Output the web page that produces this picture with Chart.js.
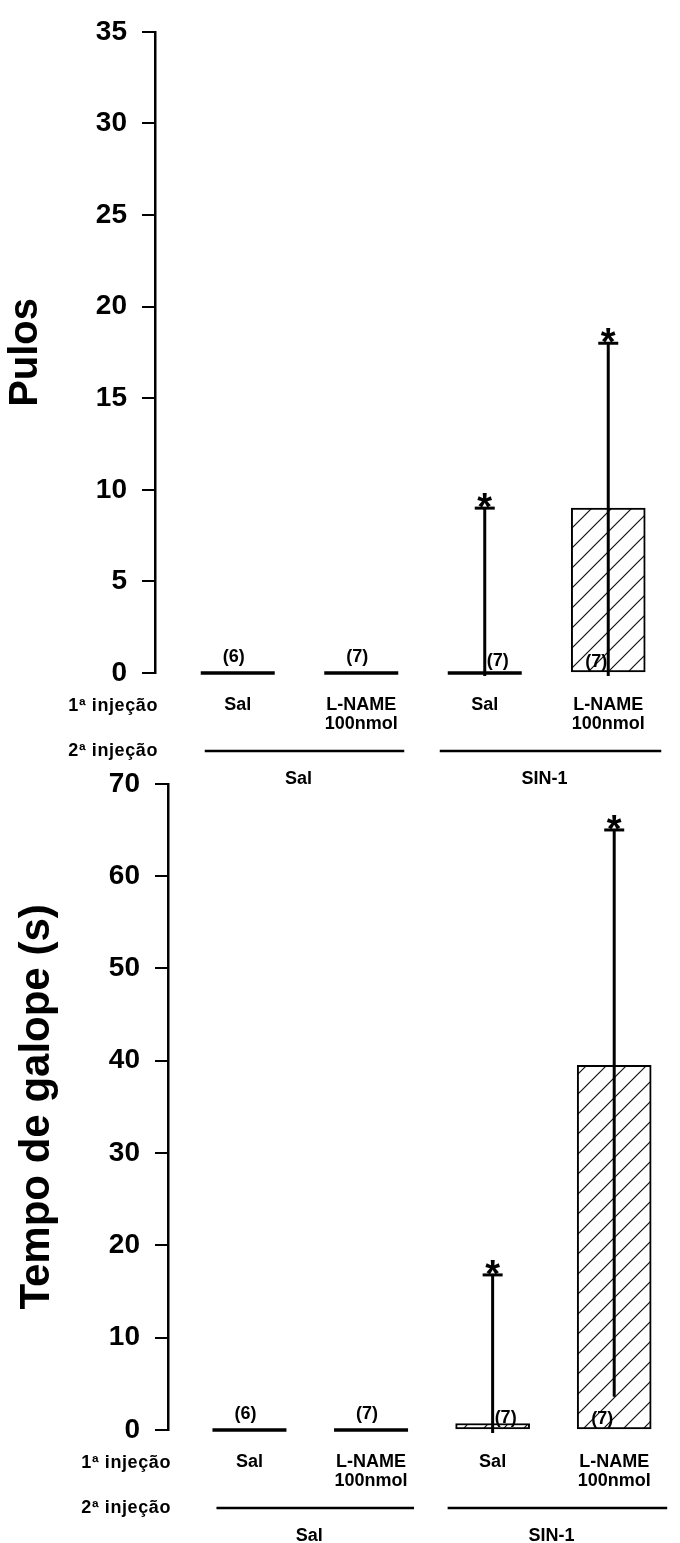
<!DOCTYPE html>
<html><head><meta charset="utf-8">
<script src="https://cdn.jsdelivr.net/npm/chart.js@4.4.1/dist/chart.umd.min.js"></script>
<style>
body{margin:0;background:#fff;width:680px;height:1543px;overflow:hidden;position:relative;}
canvas{position:absolute;left:0;}
#c1{top:0;}
#c2{top:752px;}
</style></head><body>
<canvas id="c1" width="680" height="800"></canvas>
<canvas id="c2" width="680" height="791"></canvas>
<script>
// ---- data ----
const categories = [["Sal"], ["L-NAME", "100nmol"], ["Sal"], ["L-NAME", "100nmol"]];
const groups = ["Sal", "SIN-1"];
const rowLabels = ["1ª injeção", "2ª injeção"];
const nLabels = ["(6)", "(7)", "(7)", "(7)"];
const stars = ["", "", "*", "*"];

const pulosMean = [0, 0, 0, 9];
const pulosErrHigh = [0, 0, 9, 18];
const pulosErrLow = [0, 0, 0, 0];
const pulosTicks = [0, 5, 10, 15, 20, 25, 30, 35];

const galopeMean = [0, 0, 0.7, 39.5];
const galopeErrHigh = [0, 0, 16.8, 65];
const galopeErrLow = [0, 0, 0, 3.6];
const galopeTicks = [0, 10, 20, 30, 40, 50, 60, 70];

const FONT = "'Liberation Sans', Arial, sans-serif";

function hatchPattern() {
  const c = document.createElement('canvas');
  c.width = 20; c.height = 20;
  const g = c.getContext('2d');
  g.fillStyle = '#fff'; g.fillRect(0, 0, 20, 20);
  g.strokeStyle = '#111'; g.lineWidth = 1.2;
  g.beginPath();
  g.moveTo(-2, 22); g.lineTo(22, -2);
  g.moveTo(-6, 6); g.lineTo(6, -6);
  g.moveTo(14, 26); g.lineTo(26, 14);
  g.stroke();
  return g.createPattern(c, 'repeat');
}

function annotPlugin(errHigh, errLow, means) {
  return {
    id: 'annot',
    afterDatasetsDraw(chart) {
      const ctx = chart.ctx;
      const y = chart.scales.y;
      const els = chart.getDatasetMeta(0).data;
      const zeroY = y.getPixelForValue(0);
      ctx.save();
      ctx.strokeStyle = '#000'; ctx.fillStyle = '#000';
      els.forEach((el, i) => {
        const w = el.width;
        if (Math.abs(el.base - el.y) < 2) {
          ctx.lineWidth = 3.5;
          ctx.beginPath(); ctx.moveTo(el.x - w / 2, zeroY); ctx.lineTo(el.x + w / 2, zeroY); ctx.stroke();
        }
        if (errHigh[i] > means[i]) {
          const yt = y.getPixelForValue(errHigh[i]);
          const yb = y.getPixelForValue(errLow[i]);
          ctx.lineWidth = 3;
          ctx.beginPath(); ctx.moveTo(el.x, yb + (errLow[i] === 0 ? 3 : 0)); ctx.lineTo(el.x, yt); ctx.stroke();
          ctx.beginPath(); ctx.moveTo(el.x - 10, yt); ctx.lineTo(el.x + 10, yt); ctx.stroke();
          if (stars[i]) {
            ctx.font = 'bold 38px ' + FONT;
            ctx.textAlign = 'center'; ctx.textBaseline = 'alphabetic';
            ctx.fillText(stars[i], el.x, yt + 12);
          }
        }
        ctx.font = 'bold 18px ' + FONT;
        ctx.textBaseline = 'alphabetic';
        if (errHigh[i] <= means[i]) {
          ctx.textAlign = 'center';
          ctx.fillText(nLabels[i], el.x - 4, zeroY - 11);
        } else if (means[i] < 2) {
          ctx.textAlign = 'left';
          ctx.fillText(nLabels[i], el.x + 2, zeroY - 7);
        } else {
          ctx.textAlign = 'right';
          ctx.fillText(nLabels[i], el.x - 1, zeroY - 6);
        }
      });
      const ca = chart.chartArea;
      ctx.font = 'bold 18px ' + FONT;
      try { ctx.letterSpacing = '0.6px'; } catch (e) {}
      ctx.textAlign = 'right'; ctx.textBaseline = 'middle';
      ctx.fillText(rowLabels[0], ca.left + 3, zeroY + 33);
      ctx.fillText(rowLabels[1], ca.left + 3, zeroY + 78);
      try { ctx.letterSpacing = '0px'; } catch (e) {}
      const gy = zeroY + 78;
      const spans = [[els[0].x - els[0].width / 2 + 4, els[1].x + els[1].width / 2 + 6],
                     [els[2].x - els[2].width / 2 - 8, els[3].x + els[3].width / 2 + 16]];
      ctx.lineWidth = 2.5;
      spans.forEach((s, k) => {
        ctx.beginPath(); ctx.moveTo(s[0], gy); ctx.lineTo(s[1], gy); ctx.stroke();
        ctx.font = 'bold 18px ' + FONT;
        ctx.textAlign = 'center'; ctx.textBaseline = 'middle';
        ctx.fillText(groups[k], (s[0] + s[1]) / 2 - 6, zeroY + 106);
      });
      ctx.restore();
    }
  };
}

function makeChart(id, means, errHigh, errLow, ticks, title, axisW, xH, padRight, titlePad, titleSize) {
  const pat = hatchPattern();
  return new Chart(document.getElementById(id), {
    type: 'bar',
    data: {
      datasets: [{
        data: means.map((v, i) => ({ x: i + 1, y: v })),
        backgroundColor: pat,
        borderColor: '#000',
        borderWidth: 2,
        borderSkipped: false,
        barThickness: 74
      }]
    },
    options: {
      responsive: false,
      animation: false,
      events: [],
      layout: { padding: { top: 30, right: padRight, bottom: 0, left: 0 } },
      plugins: { legend: { display: false }, tooltip: { enabled: false } },
      scales: {
        x: {
          type: 'linear', offset: false, min: 0.33, max: 4.5,
          grid: { display: false, drawTicks: false },
          border: { display: false },
          afterBuildTicks: s => { s.ticks = categories.map((c, i) => ({ value: i + 1 })); },
          afterFit: s => { s.height = xH; },
          ticks: {
            autoSkip: false, maxRotation: 0, padding: 23, color: '#000',
            font: { family: FONT, size: 18, weight: 'bold', lineHeight: 1.05 },
            callback: v => categories[v - 1]
          }
        },
        y: {
          min: ticks[0], max: ticks[ticks.length - 1],
          afterBuildTicks: s => { s.ticks = ticks.map(v => ({ value: v })); },
          afterFit: s => { s.width = axisW; },
          grid: { display: true, drawOnChartArea: false, drawTicks: true, tickLength: 13, color: '#000', lineWidth: 2 },
          border: { display: true, color: '#000', width: 2.5 },
          ticks: { color: '#000', padding: 15, font: { family: FONT, size: 28, weight: 'bold' } },
          title: { display: true, text: title, color: '#000', padding: { top: titlePad, bottom: 0 },
                   font: { family: FONT, size: titleSize, weight: 'bold' } }
        }
      }
    },
    plugins: [annotPlugin(errHigh, errLow, means)]
  });
}

makeChart('c1', pulosMean, pulosErrHigh, pulosErrLow, pulosTicks, 'Pulos', 155, 127, 10, 2, 40);
makeChart('c2', galopeMean, galopeErrHigh, galopeErrLow, galopeTicks, 'Tempo de galope (s)', 168, 113, 5, 12, 42);
</script>
</body></html>
